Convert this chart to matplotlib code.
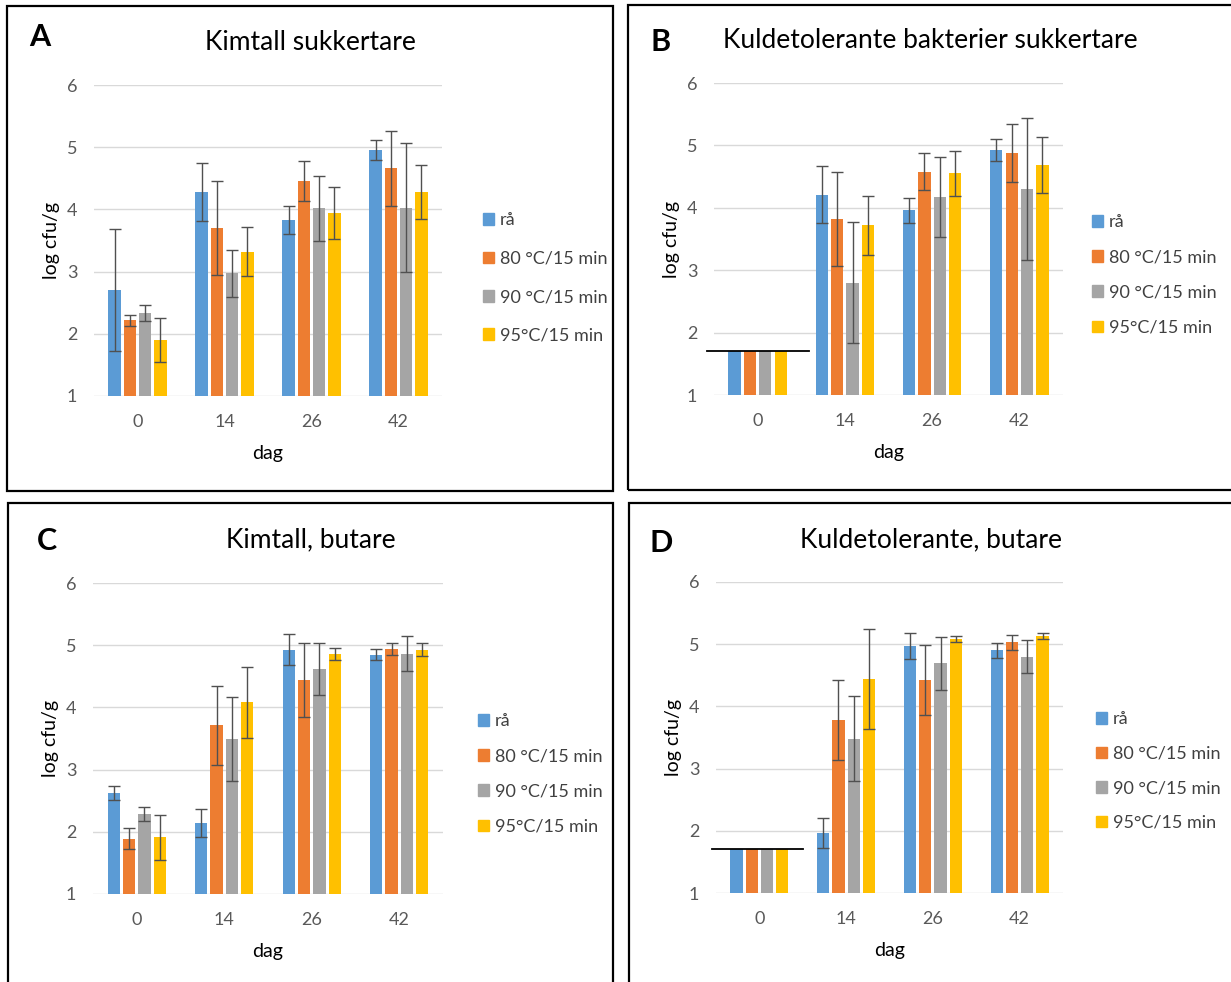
import matplotlib
matplotlib.use('Agg')
import matplotlib.pyplot as plt
from matplotlib.patches import Rectangle, Patch
import numpy as np

plt.rcParams['font.family'] = ['Lato', 'DejaVu Sans']

days = ['0', '14', '26', '42']
series = ['rå', '80 °C/15 min', '90 °C/15 min', '95°C/15 min']
colors = ['#5B9BD5', '#ED7D31', '#A5A5A5', '#FFC000']
nan = np.nan

# rows = series (rå, 80, 90, 95), columns = days
a_vals = [[2.71, 4.28, 3.83, 4.95],
          [2.22, 3.70, 4.46, 4.66],
          [2.33, 2.97, 4.02, 4.03],
          [1.90, 3.32, 3.94, 4.28]]
a_err = [[0.98, 0.46, 0.22, 0.16],
         [0.09, 0.75, 0.32, 0.60],
         [0.13, 0.38, 0.52, 1.03],
         [0.35, 0.39, 0.42, 0.43]]

b_vals = [[1.7, 4.21, 3.96, 4.93],
          [1.7, 3.82, 4.58, 4.88],
          [1.7, 2.80, 4.17, 4.30],
          [1.7, 3.72, 4.55, 4.68]]
b_err = [[nan, 0.46, 0.20, 0.18],
         [nan, 0.75, 0.30, 0.47],
         [nan, 0.97, 0.64, 1.14],
         [nan, 0.47, 0.36, 0.45]]

c_vals = [[2.62, 2.14, 4.93, 4.85],
          [1.89, 3.71, 4.44, 4.94],
          [2.29, 3.49, 4.62, 4.86],
          [1.91, 4.08, 4.86, 4.93]]
c_err = [[0.11, 0.23, 0.25, 0.09],
         [0.17, 0.64, 0.60, 0.09],
         [0.11, 0.68, 0.42, 0.28],
         [0.36, 0.57, 0.09, 0.10]]

d_vals = [[1.7, 1.96, 4.97, 4.90],
          [1.7, 3.78, 4.42, 5.03],
          [1.7, 3.48, 4.69, 4.80],
          [1.7, 4.44, 5.08, 5.13]]
d_err = [[nan, 0.24, 0.21, 0.12],
         [nan, 0.64, 0.56, 0.12],
         [nan, 0.68, 0.42, 0.27],
         [nan, 0.80, 0.05, 0.05]]

detection_limit = 1.7

W, H = 1231, 982
fig = plt.figure(figsize=(W / 100, H / 100), dpi=100)


def fx(x):
    return x / W


def fy(y):
    return 1 - y / H


def panel(letter, title, vals, err, ax_px, box_px, title_xy, letter_xy, leg_xy, leg_space, limit_span=None):
    x0, y0, x1, y1 = box_px
    fig.add_artist(Rectangle((fx(x0), fy(y1)), fx(x1 - x0), (y1 - y0) / H,
                             transform=fig.transFigure, fill=False,
                             edgecolor='black', lw=1.6))
    l, t, r, b = ax_px
    ax = fig.add_axes([fx(l), fy(b), fx(r - l), (b - t) / H])
    x = np.arange(len(days))
    pitch, width = 0.176, 0.14
    for i in range(len(series)):
        pos = x + (i - 1.5) * pitch
        ax.bar(pos, vals[i], width, color=colors[i], label=series[i], zorder=2)
        ax.errorbar(pos, vals[i], yerr=err[i], fmt='none', ecolor='#505050',
                    elinewidth=1, capsize=4, capthick=1, zorder=3)
    if limit_span is not None:
        ax.plot(limit_span, [detection_limit, detection_limit], color='black',
                lw=1.3, clip_on=False, zorder=4)
    ax.set_xlim(-0.5, 3.5)
    ax.set_ylim(1, 6)
    ax.set_yticks([1, 2, 3, 4, 5, 6])
    ax.set_xticks(x)
    ax.set_xticklabels(days)
    ax.grid(axis='y', color='#D9D9D9', lw=1, zorder=0)
    ax.set_axisbelow(True)
    for s in ax.spines.values():
        s.set_visible(False)
    ax.tick_params(length=0, labelsize=13, colors='#595959')
    ax.tick_params(axis='y', pad=12)
    ax.tick_params(axis='x', pad=13)
    ax.set_xlabel('dag', fontsize=14, color='black', labelpad=11)
    ax.set_ylabel('log cfu/g', fontsize=14, color='black', labelpad=5)
    fig.text(fx(title_xy[0]), fy(title_xy[1]), title, fontsize=19,
             ha='center', va='center', color='black')
    fig.text(fx(letter_xy[0]), fy(letter_xy[1]), letter, fontsize=22,
             fontweight='bold', ha='center', va='center', color='black')
    handles = [Patch(color=c) for c in colors]
    ax.legend(handles, series, loc='center left',
              bbox_to_anchor=(fx(leg_xy[0]), fy(leg_xy[1])),
              bbox_transform=fig.transFigure, frameon=False, fontsize=13,
              handlelength=0.6, handleheight=0.6, handletextpad=0.35,
              borderpad=0, borderaxespad=0, labelspacing=leg_space,
              labelcolor='#404040')
    return ax


panel('A', 'Kimtall sukkertare', a_vals, a_err,
      (94, 85, 442, 396), (7, 6, 613, 491), (310, 42), (40, 37), (483, 278), 1.24)
panel('B', 'Kuldetolerante bakterier sukkertare', b_vals, b_err,
      (714, 83, 1063, 395), (628, 5, 1240, 490), (930, 41), (661, 42), (1092, 275), 1.06,
      limit_span=[-0.58, 0.585])
panel('C', 'Kimtall, butare', c_vals, c_err,
      (93, 583, 443, 894), (8, 503, 613, 995), (311, 540), (47, 541), (478, 774), 1.06)
panel('D', 'Kuldetolerante, butare', d_vals, d_err,
      (716, 582, 1063, 893), (629, 503, 1240, 995), (931, 540), (661, 543), (1096, 771), 1.02,
      limit_span=[-0.55, 0.5])

fig.savefig('out.png', dpi=100)
